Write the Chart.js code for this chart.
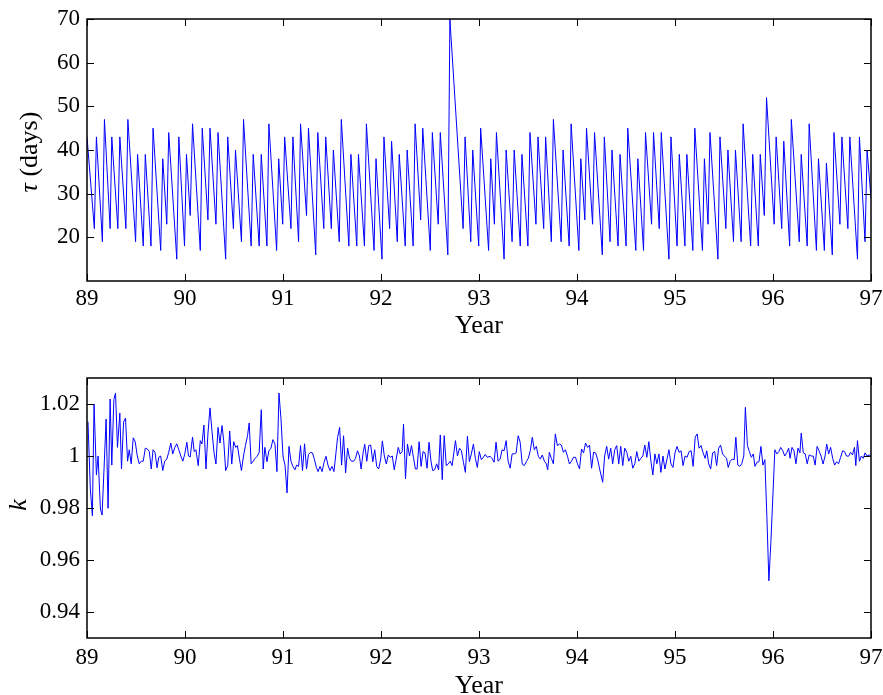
<!DOCTYPE html>
<html>
<head>
<meta charset="utf-8">
<script src="https://cdn.jsdelivr.net/npm/chart.js@4/dist/chart.umd.min.js"></script>
<style>
  body { margin: 0; background: #fff; }
  #wrap { position: relative; width: 883px; height: 695px; }
  canvas { position: absolute; left: 0; }
  #tauChart { top: 0; }
  #kChart { top: 347px; }
</style>
</head>
<body>
<div id="wrap">
  <canvas id="tauChart" width="883" height="347"></canvas>
  <canvas id="kChart" width="883" height="348"></canvas>
</div>
<script>
// tick labels
const yearTicks = [89, 90, 91, 92, 93, 94, 95, 96, 97];
const tauTicks = [20, 30, 40, 50, 60, 70];
const kTicks = [0.94, 0.96, 0.98, 1, 1.02];

// top panel: tau (days) against year
const tauYears = [
  89.000, 89.075, 89.096, 89.157, 89.178, 89.236, 89.253, 89.315, 89.335, 89.397,
  89.417, 89.496, 89.516, 89.574, 89.595, 89.653, 89.674, 89.752, 89.773, 89.814,
  89.834, 89.916, 89.937, 89.995, 90.015, 90.053, 90.077, 90.156, 90.176, 90.234,
  90.255, 90.316, 90.337, 90.415, 90.436, 90.494, 90.515, 90.576, 90.597, 90.675,
  90.696, 90.757, 90.778, 90.836, 90.856, 90.935, 90.956, 90.997, 91.017, 91.081,
  91.101, 91.159, 91.179, 91.240, 91.260, 91.334, 91.355, 91.416, 91.436, 91.493,
  91.514, 91.574, 91.595, 91.672, 91.693, 91.753, 91.770, 91.831, 91.851, 91.929,
  91.949, 92.010, 92.030, 92.088, 92.108, 92.166, 92.186, 92.247, 92.267, 92.328,
  92.348, 92.405, 92.426, 92.503, 92.524, 92.584, 92.605, 92.682, 92.703, 92.838,
  92.858, 92.916, 92.936, 92.997, 93.017, 93.098, 93.120, 93.157, 93.178, 93.256,
  93.277, 93.338, 93.359, 93.421, 93.438, 93.499, 93.520, 93.581, 93.602, 93.660,
  93.680, 93.738, 93.759, 93.838, 93.858, 93.920, 93.940, 94.019, 94.039, 94.080,
  94.097, 94.159, 94.179, 94.258, 94.279, 94.337, 94.357, 94.419, 94.439, 94.501,
  94.518, 94.600, 94.621, 94.679, 94.699, 94.761, 94.781, 94.839, 94.860, 94.938,
  94.959, 95.021, 95.044, 95.101, 95.121, 95.182, 95.202, 95.280, 95.300, 95.337,
  95.357, 95.438, 95.459, 95.519, 95.540, 95.597, 95.617, 95.675, 95.695, 95.772,
  95.793, 95.850, 95.870, 95.911, 95.934, 96.012, 96.032, 96.089, 96.110, 96.170,
  96.187, 96.268, 96.288, 96.349, 96.369, 96.443, 96.464, 96.524, 96.545, 96.605,
  96.622, 96.683, 96.703, 96.764, 96.784, 96.862, 96.882, 96.939, 96.960, 97.000
];
const tauDays = [
  43, 22, 43, 19, 47, 22, 43, 22, 43, 22,
  47, 19, 39, 18, 39, 18, 45, 17, 38, 23,
  44, 15, 43, 18, 39, 25, 46, 17, 45, 24,
  45, 23, 44, 15, 43, 22, 40, 19, 47, 18,
  39, 18, 39, 18, 46, 17, 38, 23, 43, 22,
  43, 19, 46, 25, 45, 16, 44, 22, 43, 22,
  40, 19, 47, 18, 39, 18, 39, 18, 46, 17,
  38, 15, 43, 22, 42, 19, 39, 18, 40, 18,
  46, 24, 45, 17, 44, 23, 44, 16, 70, 22,
  43, 19, 40, 18, 45, 17, 38, 23, 44, 15,
  40, 19, 40, 18, 39, 18, 44, 23, 43, 22,
  43, 19, 47, 19, 40, 18, 46, 17, 38, 24,
  45, 23, 44, 16, 43, 19, 40, 18, 39, 18,
  45, 17, 38, 17, 44, 23, 44, 22, 44, 15,
  43, 18, 39, 18, 39, 17, 45, 17, 38, 23,
  44, 15, 43, 22, 40, 19, 40, 19, 46, 18,
  39, 18, 39, 25, 52, 23, 43, 22, 42, 18,
  47, 19, 39, 18, 46, 17, 38, 17, 37, 16,
  44, 23, 43, 22, 43, 15, 43, 19, 40, 29
];

// bottom panel: k against year
const kYears = [
  89.010, 89.034, 89.055, 89.072, 89.078, 89.096, 89.113, 89.137, 89.154, 89.195,
  89.215, 89.236, 89.253, 89.274, 89.291, 89.311, 89.335, 89.352, 89.373, 89.393,
  89.414, 89.431, 89.451, 89.472, 89.492, 89.513, 89.533, 89.554, 89.574, 89.595,
  89.615, 89.636, 89.656, 89.674, 89.694, 89.715, 89.732, 89.752, 89.773, 89.793,
  89.814, 89.834, 89.855, 89.875, 89.896, 89.916, 89.937, 89.957, 89.978, 89.998,
  90.019, 90.036, 90.053, 90.077, 90.094, 90.111, 90.135, 90.156, 90.173, 90.193,
  90.214, 90.234, 90.255, 90.275, 90.296, 90.316, 90.337, 90.357, 90.378, 90.395,
  90.415, 90.436, 90.456, 90.477, 90.497, 90.518, 90.535, 90.556, 90.576, 90.597,
  90.617, 90.638, 90.655, 90.675, 90.696, 90.716, 90.737, 90.757, 90.778, 90.798,
  90.815, 90.836, 90.856, 90.877, 90.897, 90.918, 90.938, 90.959, 90.979, 91.000,
  91.021, 91.041, 91.061, 91.081, 91.101, 91.122, 91.139, 91.159, 91.179, 91.199,
  91.220, 91.240, 91.260, 91.280, 91.301, 91.321, 91.341, 91.358, 91.378, 91.399,
  91.419, 91.439, 91.459, 91.480, 91.500, 91.520, 91.541, 91.557, 91.578, 91.598,
  91.618, 91.639, 91.659, 91.679, 91.699, 91.720, 91.740, 91.760, 91.780, 91.797,
  91.818, 91.834, 91.855, 91.875, 91.895, 91.916, 91.936, 91.956, 91.976, 91.997,
  92.014, 92.034, 92.054, 92.074, 92.095, 92.115, 92.135, 92.155, 92.176, 92.196,
  92.216, 92.230, 92.250, 92.270, 92.291, 92.311, 92.331, 92.351, 92.368, 92.389,
  92.409, 92.429, 92.449, 92.470, 92.490, 92.510, 92.527, 92.547, 92.568, 92.588,
  92.605, 92.625, 92.645, 92.666, 92.686, 92.706, 92.726, 92.760, 92.780, 92.801,
  92.821, 92.841, 92.861, 92.882, 92.902, 92.922, 92.943, 92.963, 92.983, 93.003,
  93.024, 93.044, 93.064, 93.084, 93.113, 93.133, 93.154, 93.174, 93.195, 93.215,
  93.236, 93.256, 93.277, 93.297, 93.318, 93.338, 93.359, 93.379, 93.400, 93.420,
  93.441, 93.462, 93.482, 93.503, 93.523, 93.544, 93.564, 93.585, 93.605, 93.626,
  93.646, 93.667, 93.687, 93.701, 93.718, 93.738, 93.759, 93.779, 93.800, 93.821,
  93.841, 93.862, 93.882, 93.903, 93.923, 93.944, 93.964, 93.985, 94.005, 94.026,
  94.046, 94.067, 94.087, 94.108, 94.128, 94.149, 94.169, 94.190, 94.210, 94.231,
  94.262, 94.282, 94.303, 94.323, 94.344, 94.364, 94.385, 94.405, 94.426, 94.446,
  94.467, 94.487, 94.508, 94.528, 94.549, 94.569, 94.590, 94.610, 94.631, 94.651,
  94.672, 94.692, 94.713, 94.733, 94.754, 94.774, 94.795, 94.815, 94.836, 94.856,
  94.877, 94.897, 94.918, 94.938, 94.959, 94.979, 95.000, 95.021, 95.041, 95.062,
  95.082, 95.103, 95.123, 95.144, 95.165, 95.185, 95.206, 95.226, 95.246, 95.266,
  95.287, 95.307, 95.324, 95.344, 95.364, 95.384, 95.405, 95.425, 95.445, 95.465,
  95.486, 95.506, 95.526, 95.543, 95.563, 95.583, 95.604, 95.621, 95.641, 95.661,
  95.681, 95.702, 95.718, 95.739, 95.759, 95.779, 95.799, 95.816, 95.836, 95.857,
  95.877, 95.897, 95.917, 95.938, 95.958, 95.978, 96.019, 96.039, 96.059, 96.079,
  96.100, 96.120, 96.140, 96.160, 96.174, 96.194, 96.214, 96.234, 96.255, 96.275,
  96.288, 96.309, 96.329, 96.349, 96.369, 96.390, 96.410, 96.430, 96.450, 96.470,
  96.491, 96.511, 96.531, 96.548, 96.568, 96.588, 96.609, 96.629, 96.649, 96.669,
  96.690, 96.710, 96.730, 96.750, 96.771, 96.791, 96.811, 96.831, 96.845, 96.862,
  96.882, 96.902, 96.922, 96.939, 96.960, 96.980, 97.000
];
const kValues = [
  1.0132, 0.9873, 0.9770, 1.0200, 1.0200, 0.9927, 1.0000, 0.9796, 0.9773, 1.0142,
  0.9799, 1.0219, 0.9965, 1.0217, 1.0242, 1.0033, 1.0165, 0.9950, 1.0130, 1.0146,
  0.9980, 1.0024, 0.9970, 1.0070, 1.0055, 1.0000, 0.9970, 0.9980, 0.9980, 1.0030,
  1.0027, 1.0017, 0.9950, 1.0024, 1.0014, 0.9955, 0.9995, 1.0000, 0.9944, 0.9980,
  0.9988, 1.0014, 1.0050, 1.0008, 1.0033, 1.0047, 1.0024, 1.0000, 0.9980, 1.0008,
  1.0053, 1.0000, 0.9996, 1.0073, 1.0017, 1.0024, 0.9963, 1.0059, 1.0046, 1.0119,
  0.9950, 1.0085, 1.0185, 1.0097, 1.0014, 0.9969, 1.0110, 1.0050, 1.0117, 1.0059,
  0.9944, 0.9963, 1.0096, 0.9969, 1.0055, 1.0033, 1.0040, 0.9988, 0.9944, 1.0000,
  1.0040, 1.0078, 1.0127, 0.9970, 0.9980, 0.9991, 0.9999, 1.0014, 1.0178, 0.9950,
  1.0033, 0.9978, 1.0020, 1.0030, 1.0063, 1.0046, 0.9940, 1.0242, 1.0145, 1.0000,
  0.9963, 0.9858, 1.0037, 0.9980, 0.9960, 0.9947, 0.9965, 0.9960, 1.0040, 0.9944,
  1.0047, 0.9950, 1.0006, 1.0014, 1.0012, 0.9986, 0.9956, 0.9940, 0.9960, 0.9940,
  0.9976, 0.9999, 0.9965, 0.9944, 0.9960, 0.9940, 1.0014, 1.0072, 1.0110, 0.9965,
  1.0078, 0.9935, 1.0030, 0.9991, 0.9980, 0.9980, 0.9991, 1.0020, 1.0000, 0.9950,
  1.0014, 1.0045, 0.9980, 1.0040, 1.0042, 0.9978, 1.0024, 0.9960, 0.9950, 0.9988,
  1.0058, 1.0000, 0.9969, 1.0004, 0.9995, 1.0000, 0.9947, 0.9988, 1.0033, 1.0008,
  1.0017, 1.0123, 0.9912, 1.0046, 1.0000, 1.0040, 0.9995, 0.9950, 0.9950, 1.0055,
  0.9960, 1.0017, 1.0012, 0.9953, 1.0053, 0.9980, 0.9944, 0.9947, 0.9970, 0.9947,
  1.0081, 0.9909, 1.0078, 0.9963, 0.9969, 0.9980, 0.9963, 1.0059, 1.0000, 1.0030,
  1.0020, 0.9976, 0.9937, 1.0076, 0.9978, 1.0008, 1.0046, 0.9991, 0.9956, 1.0017,
  0.9986, 0.9995, 1.0006, 0.9995, 0.9999, 0.9991, 0.9976, 1.0053, 0.9980, 0.9988,
  1.0024, 1.0020, 1.0059, 0.9980, 0.9953, 1.0008, 1.0008, 1.0012, 1.0078, 1.0053,
  0.9969, 0.9963, 0.9978, 0.9991, 1.0020, 1.0072, 1.0024, 1.0037, 0.9999, 0.9988,
  1.0004, 0.9980, 0.9970, 0.9947, 1.0014, 0.9991, 0.9970, 1.0085, 1.0040, 1.0046,
  1.0042, 1.0014, 1.0024, 0.9999, 0.9969, 0.9980, 0.9995, 0.9995, 0.9970, 0.9950,
  1.0027, 1.0012, 1.0050, 1.0033, 1.0042, 0.9953, 1.0014, 1.0012, 0.9988, 0.9950,
  0.9899, 1.0000, 1.0037, 0.9988, 1.0030, 0.9970, 1.0024, 1.0040, 0.9970, 1.0037,
  0.9963, 1.0030, 1.0014, 0.9980, 0.9999, 0.9953, 0.9970, 1.0017, 0.9980, 0.9991,
  1.0000, 1.0042, 0.9995, 1.0055, 0.9980, 0.9927, 1.0008, 0.9970, 1.0008, 0.9937,
  1.0000, 0.9950, 0.9988, 1.0024, 0.9969, 0.9956, 1.0012, 1.0037, 1.0014, 1.0020,
  0.9963, 1.0000, 0.9995, 1.0017, 1.0020, 0.9960, 1.0072, 1.0085, 1.0030, 1.0040,
  1.0012, 0.9991, 1.0020, 0.9970, 0.9950, 1.0012, 1.0017, 0.9963, 1.0030, 1.0042,
  1.0008, 0.9999, 0.9991, 0.9956, 0.9980, 0.9988, 0.9986, 1.0072, 0.9965, 0.9960,
  0.9970, 1.0000, 1.0187, 1.0040, 1.0017, 0.9995, 1.0008, 0.9960, 0.9976, 0.9978,
  1.0037, 0.9965, 0.9986, 0.9760, 0.9520, 0.9667, 1.0024, 1.0008, 1.0017, 1.0033,
  1.0020, 1.0000, 1.0012, 1.0030, 0.9991, 1.0033, 1.0020, 0.9970, 1.0030, 1.0012,
  1.0088, 1.0012, 1.0008, 0.9970, 1.0004, 1.0000, 1.0000, 0.9965, 1.0037, 1.0020,
  0.9999, 0.9969, 1.0000, 1.0046, 1.0008, 1.0033, 0.9991, 0.9965, 0.9978, 0.9970,
  0.9995, 1.0020, 1.0017, 1.0000, 0.9999, 1.0014, 1.0004, 1.0033, 0.9963, 1.0059,
  0.9980, 1.0000, 0.9991, 1.0012, 1.0000, 1.0004, 1.0000
];

Chart.defaults.font.family = "'Liberation Serif', 'DejaVu Serif', serif";
Chart.defaults.color = '#000';

const tickFont = { size: 23 };
const labelFont = "26px 'Liberation Serif', serif";

// inward ticks on all four sides plus the box
function frameTicks(xVals, yVals) {
    return {
        id: 'frameTicks',
        afterDraw(chart) {
            const ctx = chart.ctx;
            const a = chart.chartArea;
            const xs = chart.scales.x;
            const ys = chart.scales.y;
            ctx.save();
            ctx.strokeStyle = '#000';
            ctx.lineWidth = 1;
            ctx.beginPath();
            xVals.forEach(v => {
                const px = Math.round(xs.getPixelForValue(v)) + 0.5;
                ctx.moveTo(px, a.bottom); ctx.lineTo(px, a.bottom - 7);
                ctx.moveTo(px, a.top); ctx.lineTo(px, a.top + 7);
            });
            yVals.forEach(v => {
                const py = Math.round(ys.getPixelForValue(v)) + 0.5;
                ctx.moveTo(a.left, py); ctx.lineTo(a.left + 7, py);
                ctx.moveTo(a.right, py); ctx.lineTo(a.right - 7, py);
            });
            ctx.stroke();
            ctx.lineWidth = 1.5;
            ctx.strokeRect(a.left, a.top, a.right - a.left, a.bottom - a.top);
            ctx.restore();
        }
    };
}

// axis titles: parts = [[text, italic], ...]
function axisTitles(xTitleY, yParts, yTitleX, yTitleY) {
    return {
        id: 'axisTitles',
        afterDraw(chart) {
            const ctx = chart.ctx;
            ctx.save();
            ctx.fillStyle = '#000';
            ctx.font = labelFont;
            ctx.textAlign = 'center';
            ctx.textBaseline = 'alphabetic';
            ctx.fillText('Year', 479, xTitleY);

            ctx.translate(yTitleX, yTitleY);
            ctx.rotate(-Math.PI / 2);
            ctx.textAlign = 'left';
            ctx.textBaseline = 'middle';
            let total = 0;
            yParts.forEach(p => {
                ctx.font = (p[1] ? 'italic ' : '') + labelFont;
                total += ctx.measureText(p[0]).width;
            });
            let xPos = -total / 2;
            yParts.forEach(p => {
                ctx.font = (p[1] ? 'italic ' : '') + labelFont;
                ctx.fillText(p[0], xPos, 0);
                xPos += ctx.measureText(p[0]).width;
            });
            ctx.restore();
        }
    };
}

function makeChart(canvasId, xs, ys, yMin, yMax, yTickVals, opts) {
    const points = xs.map((x, i) => ({ x: x, y: ys[i] }));
    return new Chart(document.getElementById(canvasId), {
        type: 'line',
        data: {
            datasets: [{
                data: points,
                borderColor: '#0000ff',
                borderWidth: 1,
                pointRadius: 0,
                tension: 0,
                fill: false
            }]
        },
        options: {
            responsive: false,
            animation: false,
            layout: { padding: { top: opts.padTop, right: 12, left: 0, bottom: 0 } },
            plugins: { legend: { display: false }, tooltip: { enabled: false } },
            scales: {
                x: {
                    type: 'linear',
                    min: 89,
                    max: 97,
                    grid: { display: false, drawTicks: false },
                    border: { display: false },
                    afterBuildTicks: axis => { axis.ticks = yearTicks.map(v => ({ value: v })); },
                    afterFit: scale => {
                        scale.height = opts.xHeight;
                        scale.paddingLeft = 0;
                        scale.paddingRight = 0;
                    },
                    ticks: { font: tickFont, padding: opts.xPad, maxRotation: 0, autoSkip: false,
                             callback: v => String(v) }
                },
                y: {
                    type: 'linear',
                    min: yMin,
                    max: yMax,
                    grid: { display: false, drawTicks: false },
                    border: { display: false },
                    afterBuildTicks: axis => { axis.ticks = yTickVals.map(v => ({ value: v })); },
                    afterFit: scale => {
                        scale.width = 87;
                        scale.paddingTop = 0;
                        scale.paddingBottom = 0;
                    },
                    ticks: { font: tickFont, padding: 7, autoSkip: false,
                             callback: v => String(v) }
                }
            }
        },
        plugins: [frameTicks(yearTicks, yTickVals), opts.titles]
    });
}

makeChart('tauChart', tauYears, tauDays, 10, 70, tauTicks, {
    padTop: 19, xHeight: 66, xPad: 4,
    titles: axisTitles(333, [['τ', true], [' (days)', false]], 30, 152)
});

makeChart('kChart', kYears, kValues, 0.93, 1.03, kTicks, {
    padTop: 31, xHeight: 57, xPad: 6,
    titles: axisTitles(346, [['k', true]], 19, 158)
});
</script>
</body>
</html>
